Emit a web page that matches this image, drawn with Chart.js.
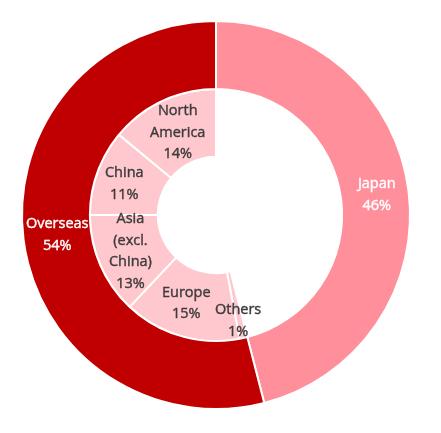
<!DOCTYPE html>
<html>
<head>
<meta charset="utf-8">
<script src="https://cdn.jsdelivr.net/npm/chart.js@4/dist/chart.umd.min.js"></script>
<style>
  html, body { margin: 0; padding: 0; background: #fff; }
  #wrap { position: absolute; left: 0; top: 0; width: 432px; height: 430px; }
</style>
</head>
<body>
<div id="wrap"><canvas id="sales-chart"></canvas></div>
<script>
// Datos del gráfico
const outerLabels = ["Japan", "Overseas"];
const outerValues = [46, 54];
const innerLabels = ["", "Others", "Europe", "Asia (excl. China)", "China", "North America"];
const innerValues = [46, 1, 15, 13, 11, 14];
const innerLines = [[], ["Others"], ["Europe"], ["Asia", "(excl.", "China)"], ["China"], ["North", "America"]];

// Plugin para dibujar las etiquetas dentro de cada sector
const sliceLabels = {
  id: "sliceLabels",
  afterDatasetsDraw(chart) {
    const ctx = chart.ctx;
    ctx.save();
    ctx.font = "14.5px 'Open Sans'";
    ctx.textAlign = "center";
    ctx.textBaseline = "middle";
    ctx.lineWidth = 0.4;
    chart.data.datasets.forEach((ds, di) => {
      const meta = chart.getDatasetMeta(di);
      meta.data.forEach((arc, i) => {
        const lines = ds.lines[i];
        if (!lines.length) return;
        const pos = arc.tooltipPosition();
        const dx = (ds.labelOffsetX && ds.labelOffsetX[i]) || 0;
        const dy = (ds.labelOffsetY && ds.labelOffsetY[i]) || 0;
        const lh = 21.5;
        const text = lines.concat([ds.data[i] + "%"]);
        const y0 = pos.y + dy - ((text.length - 1) * lh) / 2;
        ctx.fillStyle = ds.labelColor;
        ctx.strokeStyle = ds.labelColor;
        text.forEach((t, k) => {
          ctx.fillText(t, pos.x + dx, y0 + k * lh);
          ctx.strokeText(t, pos.x + dx, y0 + k * lh);
        });
      });
    });
    ctx.restore();
  },
};

const ctx = document.getElementById("sales-chart").getContext("2d");

new Chart(ctx, {
  type: "doughnut",
  data: {
    labels: innerLabels,
    datasets: [
      {
        data: outerValues,
        lines: outerLabels.map((l) => [l]),
        backgroundColor: ["#ff8f9b", "#c00000"],
        borderColor: "#ffffff",
        borderWidth: 2,
        labelColor: "#ffffff",
        labelOffsetX: [2, 0],
      },
      {
        data: innerValues,
        lines: innerLines,
        backgroundColor: ["rgba(0,0,0,0)", "#ffc7ce", "#ffc7ce", "#ffc7ce", "#ffc7ce", "#ffc7ce"],
        borderColor: "#ffffff",
        borderWidth: [0, 2, 2, 2, 2, 2],
        labelColor: "#3c3c3c",
        labelOffsetX: [0, 2, -4, -1, -5, 1],
        labelOffsetY: [0, 16, 0, 0, 0, 1],
      },
    ],
  },
  options: {
    responsive: true,
    maintainAspectRatio: false,
    animation: false,
    cutout: "30%",
    layout: { padding: { left: 21, right: 21, top: 20, bottom: 20 } },
    plugins: {
      legend: { display: false },
      tooltip: { enabled: false },
    },
  },
  plugins: [sliceLabels],
});
</script>
</body>
</html>
